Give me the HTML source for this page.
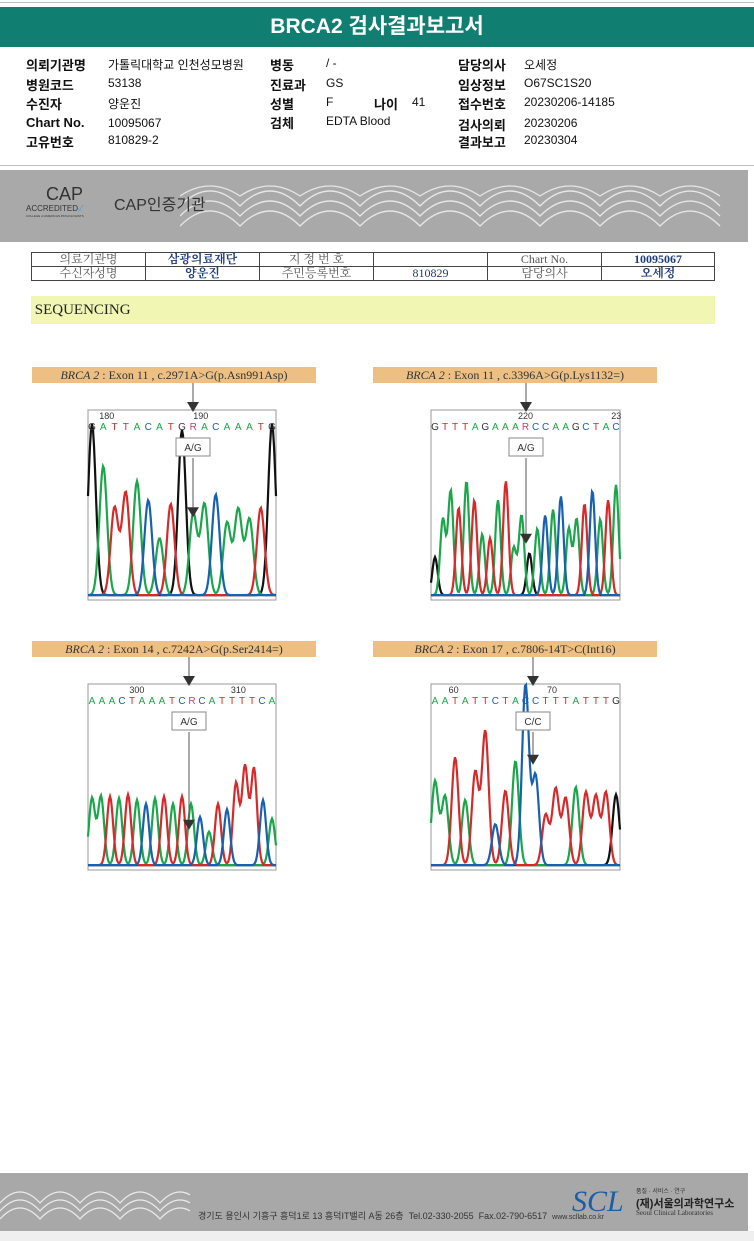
<!DOCTYPE html>
<html><head><meta charset="utf-8">
<style>
body{margin:0;width:754px;height:1241px;background:#fff;position:relative;overflow:hidden;font-family:"Liberation Sans","Noto Sans CJK KR",sans-serif;}
.a{position:absolute;}
.hdr{left:0;top:7px;width:754px;height:40px;background:#117e72;color:#fff;font-size:21px;font-weight:bold;text-align:center;line-height:40px;}
.info{font-size:12px;color:#111;}
.info b{font-weight:bold;font-size:13px;}
.lab{background:#eebf83;height:16px;font-family:"Liberation Serif","Noto Serif CJK SC",serif;font-size:12px;text-align:center;line-height:16px;color:#333;}
table{border-collapse:collapse;font-family:"Liberation Serif","Noto Serif CJK SC",serif;font-size:12px;}
td{border:1px solid #444;height:13px;padding:0;text-align:center;line-height:13px;color:#555;}
td.v{color:#1f3c7a;font-weight:bold;}
</style></head><body>
<div class="a" style="left:0;top:2px;width:754px;height:1px;background:#bbb"></div>
<div class="a hdr">BRCA2 검사결과보고서</div>
<div class="a info" style="left:0;top:55px;width:754px;height:100px">
<b class="a" style="left:26px;top:0">의뢰기관명</b><span class="a" style="left:108px;top:1px">가톨릭대학교 인천성모병원</span>
<b class="a" style="left:26px;top:20px">병원코드</b><span class="a" style="left:108px;top:21px">53138</span>
<b class="a" style="left:26px;top:39px">수진자</b><span class="a" style="left:108px;top:40px">양운진</span>
<b class="a" style="left:26px;top:60px">Chart No.</b><span class="a" style="left:108px;top:61px">10095067</span>
<b class="a" style="left:26px;top:77px">고유번호</b><span class="a" style="left:108px;top:78px">810829-2</span>
<b class="a" style="left:270px;top:0">병동</b><span class="a" style="left:326px;top:1px">/ -</span>
<b class="a" style="left:270px;top:20px">진료과</b><span class="a" style="left:326px;top:21px">GS</span>
<b class="a" style="left:270px;top:39px">성별</b><span class="a" style="left:326px;top:40px">F</span>
<b class="a" style="left:374px;top:39px">나이</b><span class="a" style="left:412px;top:40px">41</span>
<b class="a" style="left:270px;top:58px">검체</b><span class="a" style="left:326px;top:59px">EDTA Blood</span>
<b class="a" style="left:458px;top:0">담당의사</b><span class="a" style="left:524px;top:1px">오세정</span>
<b class="a" style="left:458px;top:20px">임상정보</b><span class="a" style="left:524px;top:21px">O67SC1S20</span>
<b class="a" style="left:458px;top:39px">접수번호</b><span class="a" style="left:524px;top:40px">20230206-14185</span>
<b class="a" style="left:458px;top:60px">검사의뢰</b><span class="a" style="left:524px;top:61px">20230206</span>
<b class="a" style="left:458px;top:77px">결과보고</b><span class="a" style="left:524px;top:78px">20230304</span>
</div>
<div class="a" style="left:0;top:165px;width:754px;height:1px;background:#bbb"></div>
<div class="a" style="left:0;top:170px;width:748px;height:72px;background:#a9a9a9">
<svg class="a" style="left:180px;top:0" width="568" height="72">
<g fill="none" stroke="#e6e6e6" stroke-width="1.3">
<path d="M0 36 q30-30 60 0 q30-30 60 0 q30-30 60 0 q30-30 60 0 q30-30 60 0 q30-30 60 0 q30-30 60 0 q30-30 60 0 q30-30 60 0"/>
<path d="M0 46 q30-30 60 0 q30-30 60 0 q30-30 60 0 q30-30 60 0 q30-30 60 0 q30-30 60 0 q30-30 60 0 q30-30 60 0 q30-30 60 0"/>
<path d="M0 56 q30-30 60 0 q30-30 60 0 q30-30 60 0 q30-30 60 0 q30-30 60 0 q30-30 60 0 q30-30 60 0 q30-30 60 0 q30-30 60 0"/>
<path d="M0 26 q30-20 60 0 q30-20 60 0 q30-20 60 0 q30-20 60 0 q30-20 60 0 q30-20 60 0 q30-20 60 0 q30-20 60 0 q30-20 60 0"/>
</g></svg>
<div class="a" style="left:46px;top:14px;font-size:18px;color:#333">CAP</div>
<div class="a" style="left:26px;top:33px;font-size:8px;color:#333">ACCREDITED<span style="color:#4a9fd6">✓</span></div>
<div class="a" style="left:26px;top:44px;font-size:3px;color:#333">COLLEGE of AMERICAN PATHOLOGISTS</div>
<div class="a" style="left:114px;top:21px;font-size:16px;color:#333">CAP인증기관</div>
</div>
<table class="a" style="left:31px;top:252px;width:684px">
<tr><td style="width:113px">의료기관명</td><td class="v" style="width:113px">삼광의료재단</td><td style="width:113px">지 정 번 호</td><td style="width:113px"></td><td style="width:113px">Chart No.</td><td class="v">10095067</td></tr>
<tr><td>수신자성명</td><td class="v">양운진</td><td>주민등록번호</td><td style="color:#1f3c7a">810829</td><td>담당의사</td><td class="v">오세정</td></tr>
</table>
<div class="a" style="left:31px;top:296px;width:684px;height:28px;background:#f1f6b2;font-family:'Liberation Serif',serif;font-size:15px;line-height:28px;color:#222">&nbsp;SEQUENCING</div>

<div class="a lab" style="left:32px;top:367px;width:284px"><i>BRCA 2</i> : Exon 11 , c.2971A&gt;G(p.Asn991Asp)</div>
<div class="a lab" style="left:373px;top:367px;width:284px"><i>BRCA 2</i> : Exon 11 , c.3396A&gt;G(p.Lys1132=)</div>
<div class="a lab" style="left:32px;top:641px;width:284px"><i>BRCA 2</i> : Exon 14 , c.7242A&gt;G(p.Ser2414=)</div>
<div class="a lab" style="left:373px;top:641px;width:284px"><i>BRCA 2</i> : Exon 17 , c.7806-14T&gt;C(Int16)</div>

<svg id="chr" class="a" style="left:0;top:0" width="754" height="1241"></svg>

<div class="a" style="left:0;top:1173px;width:748px;height:58px;background:#a8a8a8">
<svg class="a" style="left:0;top:0" width="190" height="58"><g fill="none" stroke="#ececec" stroke-width="1.2">
<path d="M0 30 q20-22 40 0 q20-22 40 0 q20-22 40 0 q20-22 40 0 q20-22 40 0"/><path d="M0 38 q20-22 40 0 q20-22 40 0 q20-22 40 0 q20-22 40 0 q20-22 40 0"/><path d="M0 46 q20-22 40 0 q20-22 40 0 q20-22 40 0 q20-22 40 0 q20-22 40 0"/></g></svg>
<div class="a" style="left:198px;top:36px;font-size:9px;color:#333;white-space:nowrap">경기도 용인시 기흥구 흥덕1로 13 흥덕IT밸리 A동 26층 &nbsp;Tel.02-330-2055 &nbsp;Fax.02-790-6517 &nbsp;<span style="font-size:7px">www.scllab.co.kr</span></div>
<div class="a" style="left:572px;top:12px;font-family:'Liberation Serif',serif;font-style:italic;font-size:30px;color:#1b5ea8">SCL</div>
<div class="a" style="left:636px;top:13px;font-size:6px;color:#333">품질 · 서비스 · 연구</div>
<div class="a" style="left:636px;top:22px;font-size:11px;font-weight:bold;color:#222">(재)서울의과학연구소</div>
<div class="a" style="left:636px;top:36px;font-size:7px;color:#333;font-family:'Liberation Serif',serif">Seoul Clinical Laboratories</div>
</div>
<div class="a" style="left:0;top:1231px;width:754px;height:10px;background:#efefef"></div>

<script>
const colorMap={K:'#111',G:'#1aa64a',R:'#d62a2a',B:'#1860b0'};
const p1Colors=['K','G','R','R','G','B','G','R','K','G','G','B','G','G','G','R','K'];
const p1Heights=[0.9,0.68,0.46,0.54,0.6,0.5,0.3,0.48,0.87,0.43,0.48,0.53,0.38,0.45,0.4,0.46,0.9];
const p2Colors=['K','G','G','R','G','R','G','R','G','R','G','G','K','G','B','G','B','G','G','R','B','G','R','G'];
const p2Heights=[0.2,0.4,0.55,0.46,0.6,0.5,0.32,0.3,0.5,0.6,0.25,0.42,0.22,0.35,0.42,0.45,0.52,0.35,0.4,0.48,0.55,0.4,0.5,0.58];
const p3Colors=['G','G','R','G','R','G','B','G','R','G','R','G','B','G','R','B','R','R','R','B','G'];
const p3Heights=[0.36,0.37,0.37,0.36,0.38,0.35,0.33,0.36,0.37,0.33,0.37,0.33,0.26,0.18,0.33,0.3,0.44,0.53,0.52,0.35,0.25];
const p4Colors=['G','G','R','G','R','R','B','R','G','B','B','R','R','R','G','R','R','R','K'];
const p4Heights=[0.45,0.37,0.58,0.35,0.5,0.72,0.22,0.4,0.56,0.97,0.48,0.27,0.41,0.36,0.42,0.39,0.37,0.39,0.38];
const p1Bases='G A T T A C A T G R A C A A A T G'.split(' ');
const p2Bases='G T T T A G A A A R C C A A G C T A C'.split(' ');
const p3Bases='A A A C T A A A T C R C A T T T T C A'.split(' ');
const p4Bases='A A T A T T C T A C C T T T A T T T G'.split(' ');
const baseCol={A:'#1aa64a',G:'#333',T:'#d62a2a',C:'#1860b0',R:'#c2407a'};
const panels=[
 {x:88,y:410,w:188,h:190,c:p1Colors,v:p1Heights,b:p1Bases,t1:['180',0.1],t2:['190',0.6],call:'A/G',ax:193,mk:0.42},
 {x:431,y:410,w:189,h:190,c:p2Colors,v:p2Heights,b:p2Bases,t1:['220',0.5],t2:['23',0.98],call:'A/G',ax:526,mk:0.28},
 {x:88,y:684,w:188,h:186,c:p3Colors,v:p3Heights,b:p3Bases,t1:['300',0.26],t2:['310',0.8],call:'A/G',ax:189,mk:0.2},
 {x:431,y:684,w:189,h:186,c:p4Colors,v:p4Heights,b:p4Bases,t1:['60',0.12],t2:['70',0.64],call:'C/C',ax:533,mk:0.55}];
const NS='http://www.w3.org/2000/svg';
const svg=document.getElementById('chr');
function mk(t,a,txt){const e=document.createElementNS(NS,t);for(const k in a)e.setAttribute(k,a[k]);if(txt)e.textContent=txt;svg.appendChild(e);return e;}
panels.forEach((p,pi)=>{
 const box=mk('rect',{x:p.x,y:p.y,width:p.w,height:p.h,fill:'#fff',stroke:'#999'});
 
 
 const base=p.y+p.h-3, n=p.v.length, step=(p.w-8)/(n-1);
 const xs=i=>p.x+4+i*step, ys=v=>base-v*p.h;
 ['K','G','R','B'].forEach(ch=>{
  let d='';
  for(let px=0;px<=p.w;px+=1){
   const X=p.x+px;let val=0.01;
   p.c.forEach((c,i)=>{if(c===ch){const dx=(X-xs(i))/(step*0.34);val+=p.v[i]*Math.exp(-dx*dx/2);}});
   d+=(px?'L':'M')+X.toFixed(1)+' '+ys(Math.min(val,0.98)).toFixed(1);
  }
  const path=mk('path',{d:d,fill:'none',stroke:colorMap[ch],'stroke-width':2.2});
  
  
 });
 const bs=(p.w-8)/(p.b.length-1);
 p.b.forEach((b,i)=>{const t=mk('text',{x:p.x+4+i*bs,y:p.y+20,'font-size':10,'text-anchor':'middle',fill:baseCol[b]||'#333','font-family':'Liberation Sans'},b);
  
  });
 [p.t1,p.t2].forEach(tk=>{const t=mk('text',{x:p.x+p.w*tk[1],y:p.y+9,'font-size':9,'text-anchor':'middle',fill:'#333','font-family':'Liberation Sans'},tk[0]);
  
  });
 mk('line',{x1:p.ax,y1:p.y-27,x2:p.ax,y2:p.y-2,stroke:'#555'});
 mk('path',{d:`M${p.ax-6} ${p.y-8}L${p.ax+6} ${p.y-8}L${p.ax} ${p.y+2}Z`,fill:'#333'});
 const my=ys(p.mk);
 mk('line',{x1:p.ax,y1:p.y+48,x2:p.ax,y2:my-10,stroke:'#555'});
 mk('path',{d:`M${p.ax-6} ${my-10}L${p.ax+6} ${my-10}L${p.ax} ${my}Z`,fill:'#333'});
 const cb=mk('rect',{x:p.ax-17,y:p.y+28,width:34,height:18,fill:'#fff',stroke:'#888'});
 
 
 mk('text',{x:p.ax,y:p.y+41,'font-size':10,'text-anchor':'middle',fill:'#333','font-family':'Liberation Sans'},p.call);
});
</script>
</body></html>
